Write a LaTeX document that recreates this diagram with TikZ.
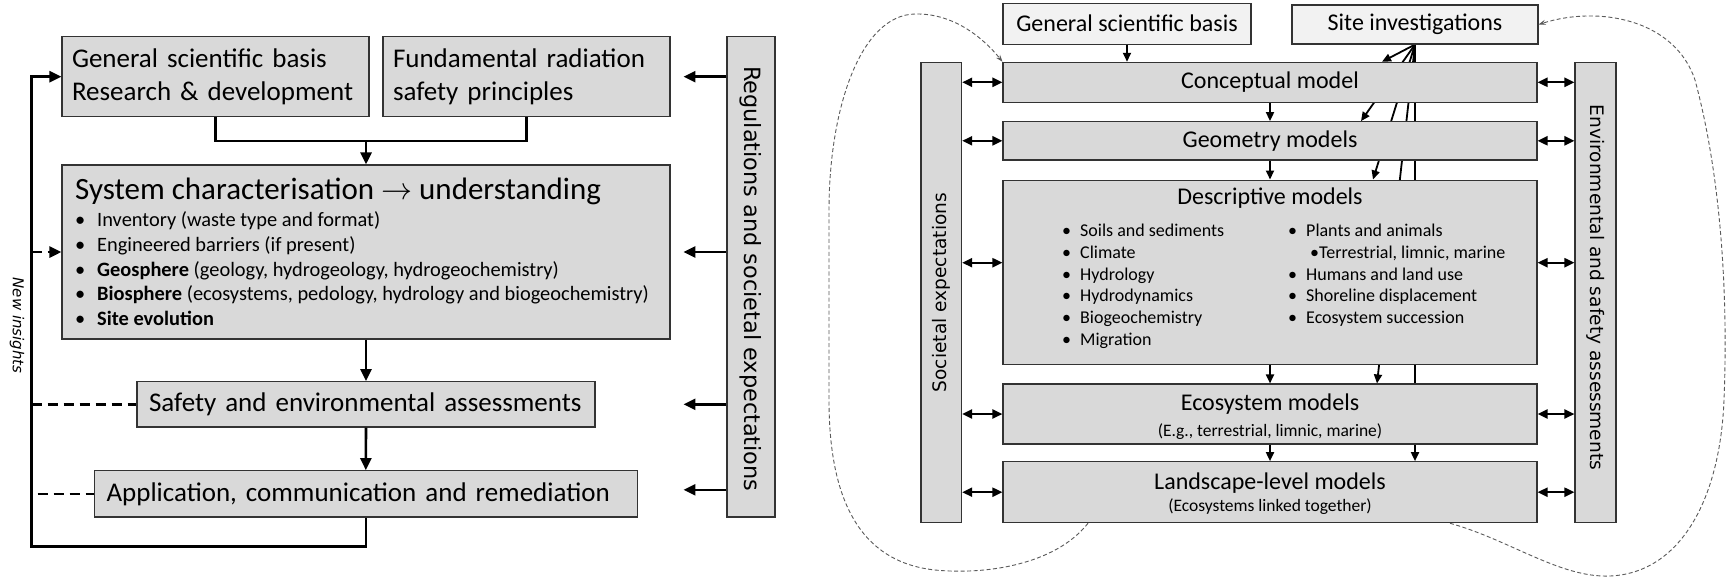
\documentclass[tikz,border=0pt]{standalone}
\usepackage{fix-cm}
\usepackage{fontspec}
\setmainfont{Carlito}
\newfontfamily\sidefont{DejaVu Sans}
\usetikzlibrary{arrows.meta,backgrounds}
\definecolor{boxfill}{HTML}{D9D9D9}
\definecolor{topfill}{HTML}{F2F2F2}
\definecolor{loopgray}{HTML}{5A5A5A}

\begin{document}
\begin{tikzpicture}[x=1pt, y=-1pt,
    box/.style={draw=black!80, line width=1.1pt, fill=boxfill, inner sep=0pt},
    topbox/.style={box, fill=topfill},
    bigtext/.style={font=\fontsize{27pt}{33pt}\selectfont},
    modeltext/.style={font=\fontsize{24pt}{29pt}\selectfont},
    listtext/.style={inner sep=0pt, anchor=base west, font=\fontsize{20.4pt}{24.8pt}\selectfont},
    itemtext/.style={inner sep=0pt, anchor=base west, font=\fontsize{18pt}{21.8pt}\selectfont},
    subtext/.style={inner sep=0pt, anchor=base, font=\fontsize{17.5pt}{21pt}\selectfont},
    sidetext/.style={font=\sidefont\fontsize{22.4pt}{27pt}\selectfont},
    rsidetext/.style={font=\sidefont\fontsize{18.6pt}{22pt}\selectfont},
    link/.style={line width=2.6pt, >={Triangle[length=12pt,width=11pt]}},
    feed/.style={link, dash pattern=on 10pt off 6pt},
    flow/.style={line width=1.8pt, >={Triangle[length=9pt,width=8pt]}},
    twoway/.style={line width=2.2pt, <->, >={Triangle[length=10pt,width=9pt]}},
    curvy/.style={loopgray, line width=0.9pt, dash pattern=on 4pt off 2.5pt, >={Stealth[length=7pt,width=5pt]}}
  ]
  \useasboundingbox (0,0) rectangle (1727,579);

  % left: from basis to remediation
  \node[box, bigtext, minimum width=307pt, minimum height=80pt, text width=287pt, inner xsep=10pt, align=left] (gsb) at (215.5,76.7) {General scientific basis\\Research \& development};
  \node[box, bigtext, minimum width=287pt, minimum height=80pt, text width=267pt, inner xsep=10pt, align=left] (frp) at (526.5,76.7) {Fundamental radiation\\safety principles};
  \node[box, minimum width=608pt, minimum height=174pt] (sys) at (366,252) {};
  \node[inner sep=0pt, anchor=base west, font=\fontsize{31pt}{37pt}\selectfont] (systitle) at (75,199.5) {System characterisation $\rightarrow$ understanding};
  \node[listtext] (inv) at (75,226.5) {\makebox[22pt][l]{\textbullet}Inventory (waste type and format)};
  \node[listtext] (eng) at (75,251.3) {\makebox[22pt][l]{\textbullet}Engineered barriers (if present)};
  \node[listtext] (geo) at (75,276.1) {\makebox[22pt][l]{\textbullet}\textbf{Geosphere} (geology, hydrogeology, hydrogeochemistry)};
  \node[listtext] (bio) at (75,300.9) {\makebox[22pt][l]{\textbullet}\textbf{Biosphere} (ecosystems, pedology, hydrology and biogeochemistry)};
  \node[listtext] (evo) at (75,325.7) {\makebox[22pt][l]{\textbullet}\textbf{Site evolution}};
  \node[box, bigtext, minimum width=458pt, minimum height=45.3pt, text width=434pt, inner xsep=12pt, align=left] (sea) at (366,404.3) {Safety and environmental assessments};
  \node[box, bigtext, minimum width=542.5pt, minimum height=46.3pt, text width=518.5pt, inner xsep=12pt, align=left] (acr) at (365.8,493.8) {Application, communication and remediation};
  \node[box, minimum width=48pt, minimum height=480.3pt] (reg) at (751,276.8) {};
  \node[sidetext, rotate=-90] (regtext) at ([yshift=-2pt]reg.center) {Regulations and societal expectations};
  \node[rotate=-90, font=\sidefont\itshape\fontsize{15pt}{18pt}\selectfont] (insights) at (17,325.5) {New insights};

  \coordinate (join) at (366,141);
  \coordinate (loop) at (31.5,546.7);
  \draw[link] (gsb.south) |- (join) -| (frp.south);
  \draw[link,->] (join) -- (sys.north);
  \draw[link,->] (sys.south) -- (sea.north);
  \draw[link,->] (sea.south) -- (acr.north);
  \draw[link,->] (acr.south) |- (loop) |- (gsb.west);
  \draw[feed,->] (loop |- sys.west) -- (sys.west);
  \draw[feed] (loop |- sea.west) -- (sea.west);
  \draw[feed] ([xshift=6pt]loop |- acr.west) -- (acr.west);
  \draw[link,->] (reg.west |- gsb.east) -- ++(-43,0);
  \draw[link,->] (reg.west |- sys.east) -- ++(-43,0);
  \draw[link,->] (reg.west |- sea.east) -- ++(-43,0);
  \draw[link,->] ([yshift=4pt]reg.west |- acr.east) -- ++(-43,0);

  % right: model chain
  \node[topbox, modeltext, minimum width=248pt, minimum height=40.7pt] (rgsb) at (1127,23.7) {General scientific basis};
  \node[topbox, modeltext, minimum width=246pt, minimum height=39pt] (site) at (1415,24.5) {Site investigations};
  \node[box, modeltext, minimum width=534pt, minimum height=40pt] (conc) at (1270,82.3) {Conceptual model};
  \node[box, modeltext, minimum width=534pt, minimum height=38.3pt] (geom) at (1270,140.8) {Geometry models};
  \node[box, minimum width=534pt, minimum height=184.3pt] (desc) at (1270,272.2) {};
  \node[modeltext, inner sep=0pt, anchor=base] (desctitle) at (1270,204) {Descriptive models};
  \node[itemtext] (soil) at (1062,236.5) {\makebox[18pt][l]{\textbullet}Soils and sediments};
  \node[itemtext] (clim) at (1062,258.3) {\makebox[18pt][l]{\textbullet}Climate};
  \node[itemtext] (hydr) at (1062,280.1) {\makebox[18pt][l]{\textbullet}Hydrology};
  \node[itemtext] (hdyn) at (1062,301.9) {\makebox[18pt][l]{\textbullet}Hydrodynamics};
  \node[itemtext] (bgc) at (1062,323.7) {\makebox[18pt][l]{\textbullet}Biogeochemistry};
  \node[itemtext] (migr) at (1062,345.5) {\makebox[18pt][l]{\textbullet}Migration};
  \node[itemtext] (plant) at (1288,236.5) {\makebox[18pt][l]{\textbullet}Plants and animals};
  \node[itemtext] (terr) at (1310,258.3) {\makebox[9pt][l]{\textbullet}Terrestrial, limnic, marine};
  \node[itemtext] (human) at (1288,280.1) {\makebox[18pt][l]{\textbullet}Humans and land use};
  \node[itemtext] (shore) at (1288,301.9) {\makebox[18pt][l]{\textbullet}Shoreline displacement};
  \node[itemtext] (succ) at (1288,323.7) {\makebox[18pt][l]{\textbullet}Ecosystem succession};
  \node[box, minimum width=534pt, minimum height=60pt] (eco) at (1270,414) {};
  \node[modeltext, inner sep=0pt, anchor=base] (ecotitle) at (1270,410.5) {Ecosystem models};
  \node[subtext] (ecosub) at (1270,436) {(E.g., terrestrial, limnic, marine)};
  \node[box, minimum width=534pt, minimum height=61pt] (land) at (1270,492.2) {};
  \node[modeltext, inner sep=0pt, anchor=base] (landtitle) at (1270,489) {Landscape-level models};
  \node[subtext] (landsub) at (1270,511) {(Ecosystems linked together)};
  \node[box, minimum width=40.6pt, minimum height=460.4pt] (soc) at (941.3,292.5) {};
  \node[rsidetext, rotate=90] (soctext) at (soc.center) {Societal expectations};
  \node[box, minimum width=41pt, minimum height=460.4pt] (env) at (1595.5,292.5) {};
  \node[rsidetext, rotate=-90] (envtext) at ([yshift=5pt]env.center) {Environmental and safety assessments};

  \begin{scope}[on background layer]
    \fill[white] (0,0) rectangle (1727,579);
    \draw[flow,->] (site.south) -- ([xshift=112pt]conc.north);
    \draw[flow,->] (site.south) -- ([xshift=91pt]geom.north);
    \draw[flow,->] (site.south) -- ([xshift=103pt]desc.north);
    \draw[flow,->] (site.south) -- ([xshift=107pt]eco.north);
    \draw[flow,->] (site.south) -- (site.south |- land.north);
  \end{scope}
  \draw[flow,->] (rgsb.south) -- (rgsb.south |- conc.north);
  \draw[flow,->] (conc.south) -- (geom.north);
  \draw[flow,->] (geom.south) -- (desc.north);
  \draw[flow,->] (desc.south) -- (eco.north);
  \draw[flow,->] (eco.south) -- (land.north);

  \coordinate (dleft) at ([yshift=9.5pt]desc.west);
  \coordinate (dright) at ([yshift=9.5pt]desc.east);
  \draw[twoway] (soc.east |- conc.west) -- (conc.west);
  \draw[twoway] (soc.east |- geom.west) -- (geom.west);
  \draw[twoway] (soc.east |- dleft) -- (dleft);
  \draw[twoway] (soc.east |- eco.west) -- (eco.west);
  \draw[twoway] (soc.east |- land.west) -- (land.west);
  \draw[twoway] (conc.east) -- (env.west |- conc.east);
  \draw[twoway] (geom.east) -- (env.west |- geom.east);
  \draw[twoway] (dright) -- (env.west |- dright);
  \draw[twoway] (eco.east) -- (env.west |- eco.east);
  \draw[twoway] (land.east) -- (env.west |- land.east);

  % dashed loops back to the top
  \draw[curvy,->] ([xshift=-182pt]land.south) .. controls (1055,565) and (985,575) .. (935,570) .. controls (860,562) and (829,500) .. (829,400) -- (829,210) .. controls (829,110) and (860,15) .. (915,14) .. controls (955,13) and (985,40) .. (conc.north west);
  \draw[curvy,->] ([xshift=180pt]land.south) .. controls (1510,540) and (1560,578) .. (1610,576) .. controls (1680,573) and (1720,500) .. (1724,400) .. controls (1728,300) and (1722,180) .. (1695,80) .. controls (1675,20) and (1600,5) .. (site.east);
\end{tikzpicture}
\end{document}
